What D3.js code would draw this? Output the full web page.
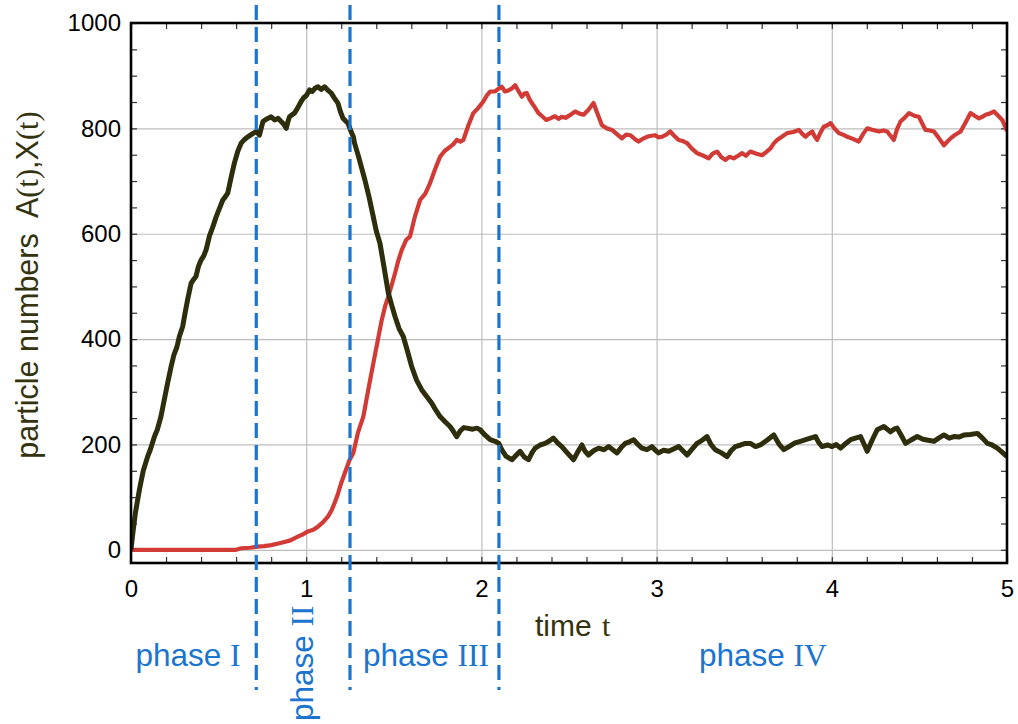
<!DOCTYPE html>
<html>
<head>
<meta charset="utf-8">
<script src="https://cdn.jsdelivr.net/npm/d3@7"></script>
<style>
  html, body { margin: 0; padding: 0; background: #fff; }
  svg { display: block; }
</style>
</head>
<body>
<svg id="chart" width="1018" height="724"></svg>
<script>
// A(t): particle number of species A
const timesA = [0, 0.01, 0.025, 0.048, 0.055, 0.07, 0.095, 0.11, 0.134, 0.15, 0.171, 0.19, 0.21, 0.229, 0.245, 0.262, 0.276, 0.295, 0.31, 0.325, 0.343, 0.355, 0.371, 0.385, 0.4, 0.415, 0.429, 0.448, 0.467, 0.486, 0.505, 0.524, 0.538, 0.552, 0.57, 0.59, 0.61, 0.629, 0.648, 0.667, 0.69, 0.716, 0.733, 0.743, 0.753, 0.775, 0.8, 0.82, 0.84, 0.857, 0.872, 0.886, 0.895, 0.905, 0.92, 0.933, 0.95, 0.971, 0.985, 1.0, 1.019, 1.035, 1.05, 1.067, 1.085, 1.105, 1.125, 1.143, 1.16, 1.181, 1.195, 1.21, 1.225, 1.238, 1.255, 1.269, 1.276, 1.3, 1.335, 1.36, 1.383, 1.4, 1.421, 1.445, 1.469, 1.49, 1.507, 1.53, 1.554, 1.58, 1.602, 1.63, 1.659, 1.69, 1.717, 1.74, 1.764, 1.79, 1.821, 1.84, 1.859, 1.88, 1.9, 1.917, 1.95, 1.975, 1.993, 2.02, 2.05, 2.078, 2.1, 2.116, 2.14, 2.174, 2.2, 2.221, 2.245, 2.269, 2.29, 2.307, 2.335, 2.364, 2.39, 2.411, 2.435, 2.459, 2.49, 2.526, 2.55, 2.574, 2.59, 2.611, 2.64, 2.669, 2.7, 2.726, 2.75, 2.774, 2.8, 2.821, 2.845, 2.869, 2.89, 2.916, 2.945, 2.974, 2.99, 3.011, 3.04, 3.069, 3.1, 3.126, 3.15, 3.174, 3.2, 3.231, 3.26, 3.288, 3.31, 3.335, 3.37, 3.402, 3.425, 3.45, 3.48, 3.507, 3.535, 3.565, 3.592, 3.63, 3.669, 3.7, 3.726, 3.76, 3.79, 3.821, 3.86, 3.907, 3.925, 3.945, 3.975, 4.002, 4.025, 4.05, 4.08, 4.107, 4.135, 4.164, 4.185, 4.202, 4.23, 4.259, 4.297, 4.335, 4.355, 4.373, 4.4, 4.421, 4.45, 4.488, 4.52, 4.55, 4.583, 4.61, 4.64, 4.67, 4.697, 4.725, 4.754, 4.79, 4.831, 4.86, 4.888, 4.915, 4.945, 4.97, 5.0];
const valuesA = [0, 30, 70, 114, 126, 150, 177, 190, 215, 228, 253, 285, 318, 348, 370, 385, 405, 424, 452, 478, 506, 512, 519, 538, 550, 558, 570, 596, 613, 632, 648, 664, 670, 677, 705, 734, 757, 772, 779, 784, 789, 794, 787, 800, 813, 818, 822, 816, 819, 813, 808, 800, 812, 822, 826, 829, 838, 851, 858, 862, 873, 870, 876, 879, 874, 879, 872, 867, 858, 848, 832, 819, 814, 810, 795, 784, 772, 745, 702, 668, 632, 605, 582, 535, 487, 462, 443, 420, 405, 375, 348, 322, 304, 290, 278, 265, 253, 244, 234, 225, 215, 226, 232, 231, 229, 231, 228, 218, 209, 206, 202, 190, 178, 171, 180, 187, 176, 171, 185, 193, 199, 202, 207, 212, 203, 196, 184, 171, 186, 199, 188, 180, 188, 193, 190, 196, 190, 184, 195, 202, 205, 209, 201, 193, 190, 196, 190, 184, 189, 187, 192, 196, 188, 180, 190, 202, 208, 215, 200, 190, 184, 177, 188, 196, 199, 202, 202, 196, 199, 208, 218, 200, 190, 197, 203, 206, 210, 215, 204, 196, 199, 196, 200, 193, 202, 209, 212, 215, 200, 187, 208, 228, 234, 224, 229, 231, 215, 202, 208, 215, 210, 208, 206, 212, 218, 212, 215, 214, 218, 219, 221, 212, 202, 199, 193, 186, 177];

// X(t): particle number of species X
const timesX = [0, 0.6, 0.629, 0.68, 0.724, 0.76, 0.8, 0.84, 0.876, 0.91, 0.952, 0.98, 1.01, 1.04, 1.067, 1.095, 1.124, 1.145, 1.162, 1.18, 1.2, 1.225, 1.248, 1.269, 1.295, 1.326, 1.355, 1.383, 1.41, 1.431, 1.45, 1.469, 1.49, 1.507, 1.525, 1.545, 1.57, 1.593, 1.62, 1.65, 1.68, 1.707, 1.735, 1.764, 1.79, 1.821, 1.84, 1.859, 1.88, 1.897, 1.925, 1.954, 1.98, 2.011, 2.03, 2.05, 2.078, 2.1, 2.116, 2.135, 2.154, 2.175, 2.193, 2.21, 2.231, 2.245, 2.259, 2.275, 2.288, 2.305, 2.326, 2.35, 2.37, 2.393, 2.42, 2.44, 2.459, 2.48, 2.51, 2.535, 2.56, 2.583, 2.61, 2.64, 2.66, 2.688, 2.715, 2.745, 2.77, 2.802, 2.825, 2.85, 2.875, 2.897, 2.92, 2.945, 2.97, 2.993, 3.01, 3.03, 3.055, 3.078, 3.1, 3.126, 3.15, 3.174, 3.2, 3.231, 3.26, 3.297, 3.32, 3.345, 3.37, 3.393, 3.415, 3.44, 3.465, 3.488, 3.51, 3.535, 3.57, 3.602, 3.625, 3.65, 3.67, 3.688, 3.715, 3.745, 3.78, 3.812, 3.83, 3.85, 3.87, 3.888, 3.9, 3.916, 3.935, 3.954, 3.975, 3.993, 4.015, 4.04, 4.065, 4.088, 4.12, 4.154, 4.18, 4.202, 4.235, 4.269, 4.295, 4.316, 4.335, 4.354, 4.372, 4.392, 4.415, 4.44, 4.47, 4.497, 4.515, 4.535, 4.56, 4.583, 4.61, 4.64, 4.66, 4.678, 4.705, 4.735, 4.765, 4.792, 4.815, 4.84, 4.86, 4.878, 4.9, 4.926, 4.95, 4.973, 5.0];
const valuesX = [0, 0, 3, 4, 6, 7, 9, 12, 15, 18, 25, 29, 35, 38, 44, 52, 63, 75, 89, 105, 127, 150, 171, 184, 222, 253, 305, 354, 400, 436, 462, 481, 505, 525, 548, 569, 588, 595, 632, 664, 676, 696, 722, 746, 757, 765, 770, 778, 775, 778, 805, 829, 838, 851, 862, 870, 870, 876, 879, 870, 872, 876, 882, 872, 860, 866, 867, 855, 848, 840, 829, 822, 816, 819, 823, 818, 822, 820, 826, 832, 828, 826, 835, 848, 830, 806, 800, 797, 790, 781, 788, 787, 780, 775, 780, 784, 786, 787, 783, 784, 788, 794, 786, 778, 776, 772, 762, 753, 749, 743, 752, 756, 745, 740, 746, 743, 748, 753, 748, 756, 752, 749, 755, 762, 772, 778, 784, 791, 793, 797, 790, 784, 790, 794, 786, 778, 792, 803, 806, 810, 800, 791, 788, 784, 780, 775, 790, 800, 797, 794, 796, 794, 786, 778, 798, 813, 820, 829, 824, 822, 810, 797, 796, 794, 782, 768, 775, 781, 788, 794, 812, 829, 824, 819, 822, 826, 828, 832, 824, 816, 795];

// Phase boundaries (time) and phase names
const phaseBounds = [0.715, 1.25, 2.1];
const phaseNames = ["I", "II", "III", "IV"];

// Axis ticks
const xMajorTicks = [0, 1, 2, 3, 4, 5];
const yMajorTicks = [0, 200, 400, 600, 800, 1000];
const xMinorTicks = d3.range(0, 5.0001, 0.2).map(v => +v.toFixed(1));
const yMinorTicks = d3.range(0, 1000.0001, 50);

const margin = { top: 23, left: 131, right: 11, bottom: 161 };
const W = 1018, H = 724;
const width = W - margin.left - margin.right;
const height = H - margin.top - margin.bottom;

const svg = d3.select("#chart");
const g = svg.append("g").attr("transform", `translate(${margin.left},${margin.top})`);

const x = d3.scaleLinear().domain([0, 5]).range([0, width]);
const y = d3.scaleLinear().domain([-25, 1000]).range([height, 0]);

const sansFont = "'Liberation Sans', Arial, Helvetica, sans-serif";
const serifFont = "'Liberation Serif', 'Times New Roman', serif";
const olive = "#33330f";
const blue = "#1a74d0";

// Grid lines
g.append("g")
  .attr("transform", `translate(0,${height})`)
  .call(d3.axisBottom(x).tickValues(xMajorTicks.slice(1, -1)).tickSize(-height).tickFormat(""))
  .call(a => a.select(".domain").remove())
  .call(a => a.selectAll("line").attr("stroke", "#bdbdbd").attr("stroke-width", 1.2));
g.append("g")
  .call(d3.axisLeft(y).tickValues(yMajorTicks.slice(0, -1)).tickSize(-width).tickFormat(""))
  .call(a => a.select(".domain").remove())
  .call(a => a.selectAll("line").attr("stroke", "#bdbdbd").attr("stroke-width", 1.2));

// Inward minor ticks on all four sides
function minorTicks(axis, transform) {
  g.append("g")
    .attr("transform", transform || null)
    .call(axis)
    .call(a => a.select(".domain").remove())
    .call(a => a.selectAll("line").attr("stroke", "#333").attr("stroke-width", 1.2));
}
minorTicks(d3.axisBottom(x).tickValues(xMinorTicks).tickSize(-6).tickFormat(""), `translate(0,${height})`);
minorTicks(d3.axisTop(x).tickValues(xMinorTicks).tickSize(-6).tickFormat(""));
minorTicks(d3.axisLeft(y).tickValues(yMinorTicks).tickSize(-6).tickFormat(""));
minorTicks(d3.axisRight(y).tickValues(yMinorTicks).tickSize(-6).tickFormat(""), `translate(${width},0)`);

// Tick labels
g.append("g")
  .attr("transform", `translate(0,${height})`)
  .call(d3.axisBottom(x).tickValues(xMajorTicks).tickSize(0).tickPadding(17).tickFormat(d3.format("d")))
  .call(a => a.select(".domain").remove())
  .call(a => a.selectAll("text").attr("font-family", sansFont).attr("font-size", 24).attr("fill", "#000"));
g.append("g")
  .call(d3.axisLeft(y).tickValues(yMajorTicks).tickSize(0).tickPadding(10).tickFormat(d3.format("d")))
  .call(a => a.select(".domain").remove())
  .call(a => a.selectAll("text").attr("font-family", sansFont).attr("font-size", 24).attr("fill", "#000"));

// Curves
const line = d3.line().x(d => x(d[0])).y(d => y(d[1]));
svg.append("clipPath").attr("id", "plotClip")
  .append("rect").attr("x", 0).attr("y", 0).attr("width", width).attr("height", height);

g.append("path")
  .datum(d3.zip(timesX, valuesX))
  .attr("clip-path", "url(#plotClip)")
  .attr("fill", "none")
  .attr("stroke", "#d23a36")
  .attr("stroke-width", 4.2)
  .attr("stroke-linejoin", "round")
  .attr("d", line);

g.append("path")
  .datum(d3.zip(timesA, valuesA))
  .attr("clip-path", "url(#plotClip)")
  .attr("fill", "none")
  .attr("stroke", "#2e2e0c")
  .attr("stroke-width", 5)
  .attr("stroke-linejoin", "round")
  .attr("d", line);

// Plot frame
g.append("rect")
  .attr("x", 0).attr("y", 0).attr("width", width).attr("height", height)
  .attr("fill", "none").attr("stroke", "#000").attr("stroke-width", 2.6);

// Phase boundaries
g.selectAll(".phase-bound")
  .data(phaseBounds)
  .join("line")
  .attr("class", "phase-bound")
  .attr("x1", d => x(d)).attr("x2", d => x(d))
  .attr("y1", -18).attr("y2", height + 127)
  .attr("stroke", blue)
  .attr("stroke-width", 3.2)
  .attr("stroke-dasharray", "15,7");

// Phase labels (label anchor times along the axis); phase II is written upright
const labelAt = [0.325, 0.983, 1.684, 3.607];
const labelY = height + 103;
phaseNames.forEach((name, i) => {
  const cx = x(labelAt[i]);
  const t = g.append("text")
    .attr("fill", blue)
    .attr("font-size", 31.5)
    .attr("font-family", sansFont);
  if (name === "II") {
    t.attr("transform", `translate(${cx + 10},${height + 158}) rotate(-90)`)
      .attr("text-anchor", "start");
  } else {
    t.attr("x", cx).attr("y", labelY).attr("text-anchor", "middle");
  }
  t.append("tspan").text("phase ");
  t.append("tspan").attr("font-family", serifFont).text(name);
});

// Axis titles
const xt = g.append("text")
  .attr("x", 535 - margin.left).attr("y", height + 73)
  .attr("fill", olive).attr("font-size", 30).attr("font-family", sansFont);
xt.append("tspan").text("time ");
xt.append("tspan").attr("font-family", serifFont).attr("dx", 2).text("t");

const yt = svg.append("text")
  .attr("transform", `translate(38,${285}) rotate(-90)`)
  .attr("text-anchor", "middle")
  .attr("fill", olive).attr("font-size", 30.5).attr("font-family", sansFont);
yt.append("tspan").text("particle numbers\u00a0 A");
yt.append("tspan").attr("font-family", serifFont).text("(t)");
yt.append("tspan").text(",X");
yt.append("tspan").attr("font-family", serifFont).text("(t)");
</script>
</body>
</html>
